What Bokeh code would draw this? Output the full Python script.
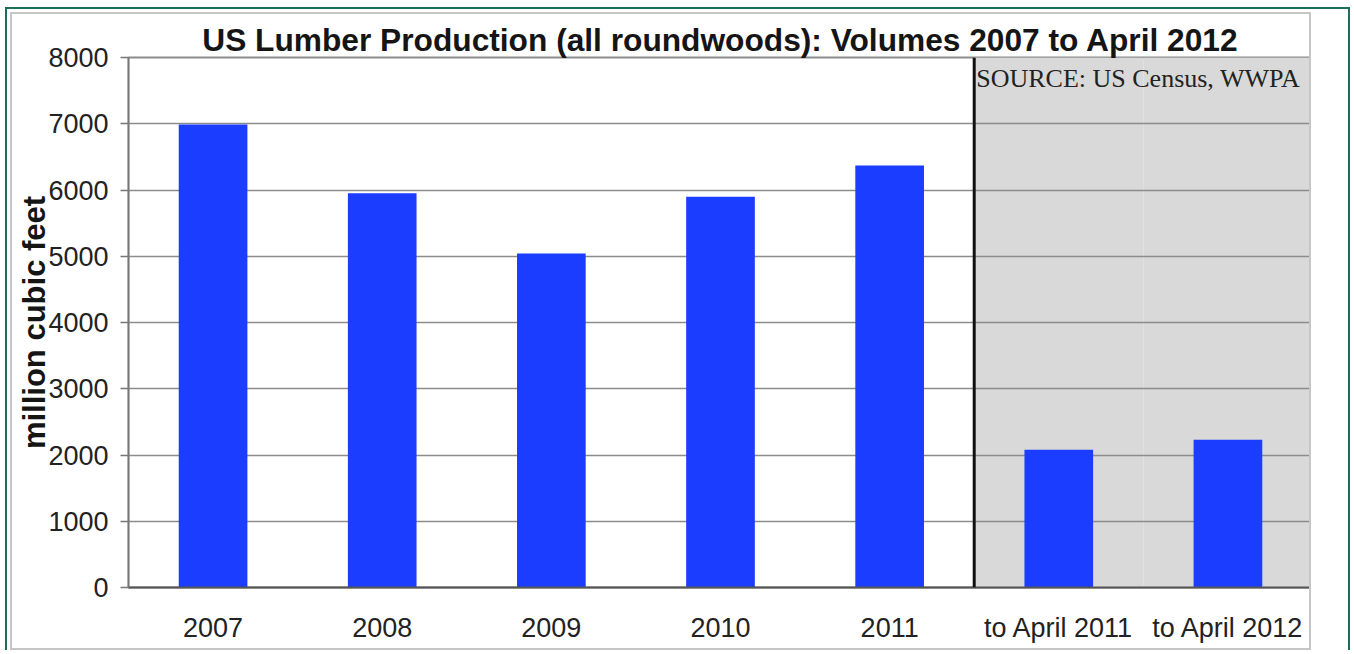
from bokeh.plotting import figure
from bokeh.layouts import column
from bokeh.models import (FactorRange, Range1d, Span, Label, FixedTicker, ColumnDataSource)
from bokeh.embed import file_html
from bokeh.resources import INLINE

# ---- data ----
categories = ["2007", "2008", "2009", "2010", "2011", "to April 2011", "to April 2012"]
volumes = [6990, 5950, 5040, 5900, 6370, 2080, 2230]
partial_categories = ["to April 2011", "to April 2012"]
y_ticks = [0, 1000, 2000, 3000, 4000, 5000, 6000, 7000, 8000]
y_max = 8000
title_text = "US Lumber Production (all roundwoods): Volumes 2007 to April 2012"
y_label = "million cubic feet"
source_text = "SOURCE: US Census, WWPA"

FONT = "Liberation Sans"
BORDER = 2
ML, MT, FW, FH, MR = 116, 43, 1180, 530, 1
W = ML + FW + MR + 2 * BORDER
H = 638

p = figure(width=W, height=H, output_backend="svg", toolbar_location=None,
           x_range=FactorRange(factors=categories, range_padding=0),
           y_range=Range1d(0, y_max),
           min_border_left=ML, min_border_right=MR,
           min_border_top=MT, min_border_bottom=H - MT - FH,
           background_fill_color="white", border_fill_color="white")
p.styles = {"border": f"{BORDER}px solid #c6c6c6"}

# title
p.title.text = title_text
p.title.text_font = FONT
p.title.text_font_size = "31.7px"
p.title.text_font_style = "bold"
p.title.text_color = "#151515"
p.title.align = "center"
p.title.standoff = 0

# shaded region for partial-year data
shade = ColumnDataSource(dict(x=partial_categories, top=[y_max] * len(partial_categories)))
p.vbar(x="x", top="top", width=1.0, source=shade, fill_color="#d9d9d9",
       line_color=None, level="underlay")

# bars
src = ColumnDataSource(dict(x=categories, top=volumes))
p.vbar(x="x", top="top", width=0.406, source=src, fill_color="#1a3dff",
       line_color=None)

# divider line between full years and partial years
p.add_layout(Span(location=categories.index(partial_categories[0]), dimension="height",
                  line_color="#111111", line_width=3))

# source note
p.add_layout(Label(x=categories.index(partial_categories[0]), y=y_max, x_offset=2, y_offset=-6,
                   text=source_text, text_font="Liberation Serif", text_font_size="26px",
                   text_color="#222222", text_baseline="top", text_align="left"))

# grid / outline
p.xgrid.grid_line_color = None
p.ygrid.grid_line_color = "#8c8c8c"
p.ygrid.grid_line_width = 1.5
p.yaxis.ticker = FixedTicker(ticks=y_ticks)
p.outline_line_color = "#8c8c8c"
p.outline_line_width = 2

# y axis
p.yaxis.axis_label = y_label
p.yaxis.axis_label_text_font = FONT
p.yaxis.axis_label_text_font_size = "31px"
p.yaxis.axis_label_text_font_style = "bold"
p.yaxis.axis_label_text_color = "#151515"
p.yaxis.axis_label_standoff = -7
p.yaxis.major_label_text_font = FONT
p.yaxis.major_label_text_font_size = "27px"
p.yaxis.major_label_text_color = "#222222"
p.yaxis.major_label_standoff = 12
p.yaxis.major_tick_out = 8
p.yaxis.major_tick_in = 0
p.yaxis.minor_tick_out = 0
p.yaxis.minor_tick_in = 0
p.yaxis.axis_line_color = "#777777"
p.yaxis.axis_line_width = 1.5
p.yaxis.major_tick_line_color = "#777777"
p.yaxis.major_tick_line_width = 1.5

# x axis
p.xaxis.major_label_text_font = FONT
p.xaxis.major_label_text_font_size = "27px"
p.xaxis.major_label_text_color = "#222222"
p.xaxis.major_label_standoff = 25
p.xaxis.major_tick_out = 0
p.xaxis.major_tick_in = 0
p.xaxis.axis_line_color = "#555555"
p.xaxis.axis_line_width = 2

frame_box = column(p, styles={"border-left": "2px solid #1c6e5c",
                              "border-top": "2px solid #1c6e5c",
                              "border-right": "2px solid #1c6e5c",
                              "padding": "3px 37px 0px 3px",
                              "background": "white"})
page = column(frame_box, styles={"padding": "7px 0px 0px 5px"})

open("out.html", "w").write(file_html(page, INLINE))
